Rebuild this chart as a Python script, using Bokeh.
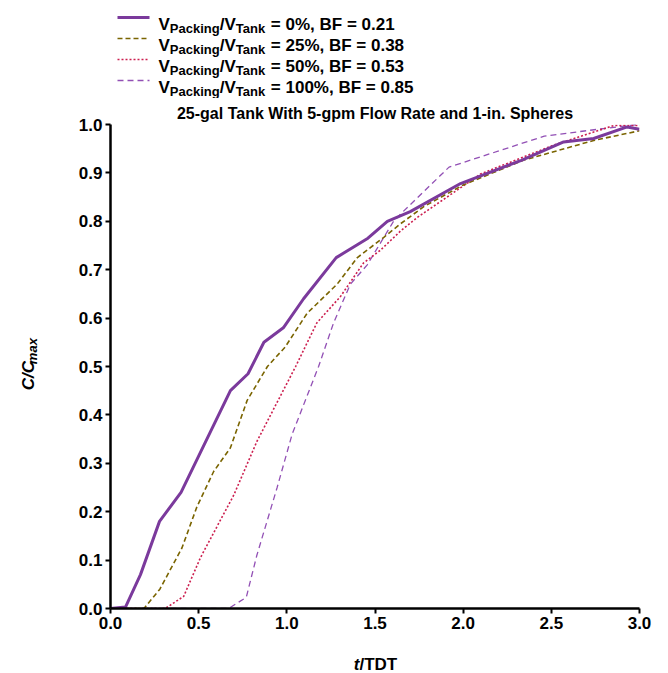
import math
from bokeh.plotting import figure
from bokeh.models import Label, Range1d, FixedTicker
from bokeh.layouts import column, row
from bokeh.embed import file_html
from bokeh.resources import INLINE

# ---------------- data ----------------
x_0 = [0.0, 0.085, 0.17, 0.278, 0.40, 0.68, 0.78, 0.87, 0.98, 1.095, 1.28, 1.46, 1.57, 1.70, 1.985, 2.33, 2.57, 2.74, 2.93, 3.0]
y_0 = [0.0, 0.003, 0.07, 0.18, 0.24, 0.45, 0.485, 0.55, 0.58, 0.64, 0.725, 0.765, 0.80, 0.82, 0.878, 0.926, 0.964, 0.971, 0.995, 0.99]

x_25 = [0.0, 0.19, 0.28, 0.405, 0.49, 0.585, 0.68, 0.775, 0.89, 0.99, 1.115, 1.285, 1.40, 1.55, 1.645, 1.775, 2.0, 2.34, 2.74, 3.0]
y_25 = [0.0, 0.0, 0.04, 0.125, 0.21, 0.283, 0.332, 0.43, 0.50, 0.54, 0.61, 0.67, 0.725, 0.767, 0.795, 0.83, 0.875, 0.926, 0.967, 0.987]

x_50 = [0.0, 0.31, 0.415, 0.51, 0.70, 0.83, 1.05, 1.17, 1.305, 1.435, 1.53, 1.645, 1.74, 2.1, 2.51, 2.855, 3.0]
y_50 = [0.0, 0.0, 0.025, 0.105, 0.235, 0.345, 0.50, 0.59, 0.645, 0.714, 0.74, 0.78, 0.808, 0.898, 0.957, 0.998, 0.998]

x_100 = [0.0, 0.67, 0.77, 0.83, 0.945, 1.03, 1.18, 1.265, 1.36, 1.456, 1.605, 1.645, 1.92, 2.46, 2.76, 2.99]
y_100 = [0.0, 0.0, 0.023, 0.11, 0.25, 0.36, 0.50, 0.59, 0.67, 0.71, 0.80, 0.815, 0.912, 0.976, 0.99, 1.0]

pcts = ["0%", "25%", "50%", "100%"]
bfs = ["0.21", "0.38", "0.53", "0.85"]
x_ticks = [0.0, 0.5, 1.0, 1.5, 2.0, 2.5, 3.0]
y_ticks = [0.0, 0.1, 0.2, 0.3, 0.4, 0.5, 0.6, 0.7, 0.8, 0.9, 1.0]
title_text = "25-gal Tank With 5-gpm Flow Rate and 1-in. Spheres"

# ---------------- styles ----------------
FONT = "Liberation Sans"
styles = [
    dict(color="#7b3a9c", width=3.0, dash="solid"),
    dict(color="#7a6400", width=1.6, dash="5 3"),
    dict(color="#cc1f4f", width=1.6, dash="2 2"),
    dict(color="#9250b5", width=1.3, dash="6 4"),
]

PW, PH = 668, 673
HEAD_H = 98           # legend strip
FOOT_H = 33           # x-axis title strip
LEFT_W = 40           # y-axis title strip
MAIN_H = PH - HEAD_H - FOOT_H
MAIN_W = PW - LEFT_W
# frame position on the page
FL, FR, FT, FB = 110, 639, 124, 608


def strip(w, h, x0, y0):
    f = figure(width=w, height=h, output_backend="svg", toolbar_location=None,
               x_range=Range1d(x0, x0 + w), y_range=Range1d(y0 + h, y0),
               x_axis_type=None, y_axis_type=None,
               min_border_left=0, min_border_right=0, min_border_top=0, min_border_bottom=0)
    f.outline_line_color = None
    f.grid.visible = False
    f.background_fill_color = "white"
    f.border_fill_color = "white"
    return f


WID = {' ': 278, '%': 889, ',': 278, '-': 333, '.': 278, '/': 278, '=': 584,
       'B': 722, 'C': 722, 'D': 722, 'F': 611, 'P': 667, 'T': 611, 'V': 667,
       'a': 556, 'c': 556, 'g': 611, 'i': 278, 'k': 556, 'm': 889, 'n': 611,
       'x': 556, 't': 333}
for ch in "0123456789":
    WID[ch] = 556


def tw(s, size):
    return sum(WID.get(c, 556) for c in s) * size / 1000.0


def lab(f, x, y, text, size, style="bold", angle=0.0, align="left"):
    f.add_layout(Label(x=x, y=y, text=text, text_font=FONT,
                       text_font_size=f"{size}px", text_font_style=style,
                       text_color="black", text_baseline="alphabetic",
                       text_align=align, angle=angle))


# ---------------- main plot ----------------
p = figure(width=MAIN_W, height=MAIN_H, output_backend="svg", toolbar_location=None,
           x_range=Range1d(0, 3.0), y_range=Range1d(0, 1.0),
           min_border_left=FL - LEFT_W, min_border_right=PW - FR,
           min_border_top=FT - HEAD_H, min_border_bottom=(PH - FOOT_H) - FB)
p.outline_line_color = None
p.grid.visible = False
p.background_fill_color = "white"
p.border_fill_color = "white"
p.title.text = title_text
p.title.text_font = FONT
p.title.text_font_style = "bold"
p.title.text_font_size = "16px"
p.title.text_color = "black"
p.title.align = "center"
p.title.offset = 5
p.title.standoff = 6

for ax in (p.xaxis[0], p.yaxis[0]):
    ax.axis_line_width = 2.5
    ax.axis_line_color = "black"
    ax.major_tick_line_width = 2
    ax.major_tick_line_color = "black"
    ax.major_tick_out = 5
    ax.major_tick_in = 0
    ax.minor_tick_line_color = None
    ax.major_label_text_font = FONT
    ax.major_label_text_font_style = "bold"
    ax.major_label_text_font_size = "17px"
    ax.major_label_text_color = "black"
    ax.major_label_standoff = 3
p.xaxis[0].ticker = FixedTicker(ticks=x_ticks)
p.yaxis[0].ticker = FixedTicker(ticks=y_ticks)
p.xaxis[0].major_label_overrides = {t: f"{t:.1f}" for t in x_ticks}
p.yaxis[0].major_label_overrides = {t: f"{t:.1f}" for t in y_ticks}

series = [(x_0, y_0), (x_25, y_25), (x_50, y_50), (x_100, y_100)]
for (xs, ys), st in reversed(list(zip(series, styles))):
    p.line(xs, ys, line_color=st["color"], line_width=st["width"], line_dash=st["dash"])

# ---------------- legend strip (with subscripts) ----------------
head = strip(PW, HEAD_H, 0, 0)
BIG, SUB = 17, 13
swatch_y = [17, 38, 59, 80]
for i, st in enumerate(styles):
    yc = swatch_y[i]
    head.line([117, 149], [yc, yc], line_color=st["color"], line_width=st["width"],
              line_dash=st["dash"])
    base = yc + 7
    x = 158
    pieces = [("V", BIG, 0), ("Packing", SUB, 3.5), ("/V", BIG, 0), ("Tank", SUB, 3.5),
              (" ", BIG, None), (f"= {pcts[i]}, BF = {bfs[i]}", BIG, 0)]
    for txt, sz, off in pieces:
        if off is not None:
            lab(head, x, base + off, txt, sz)
        x += tw(txt, sz)

# ---------------- y-axis title strip ----------------
left = strip(LEFT_W, MAIN_H, 0, HEAD_H)
yt_main = tw("C/C", 17)
yt_sub = tw("max", 13)
ystart = 368 + (yt_main + yt_sub) / 2
lab(left, 28, ystart, "C/C", 17, style="bold italic", angle=math.pi / 2)
lab(left, 31.5, ystart - yt_main, "max", 13, style="bold italic", angle=math.pi / 2)

# ---------------- x-axis title strip ----------------
foot = strip(PW, FOOT_H, 0, PH - FOOT_H)
xt_total = tw("t", 17) + tw("/TDT", 17)
x0 = 375 - xt_total / 2
lab(foot, x0, 664, "t", 17, style="bold italic")
lab(foot, x0 + tw("t", 17), 664, "/TDT", 17)

layout = column(head, row(left, p, spacing=0), foot, spacing=0)
open("out.html", "w").write(file_html(layout, INLINE))
